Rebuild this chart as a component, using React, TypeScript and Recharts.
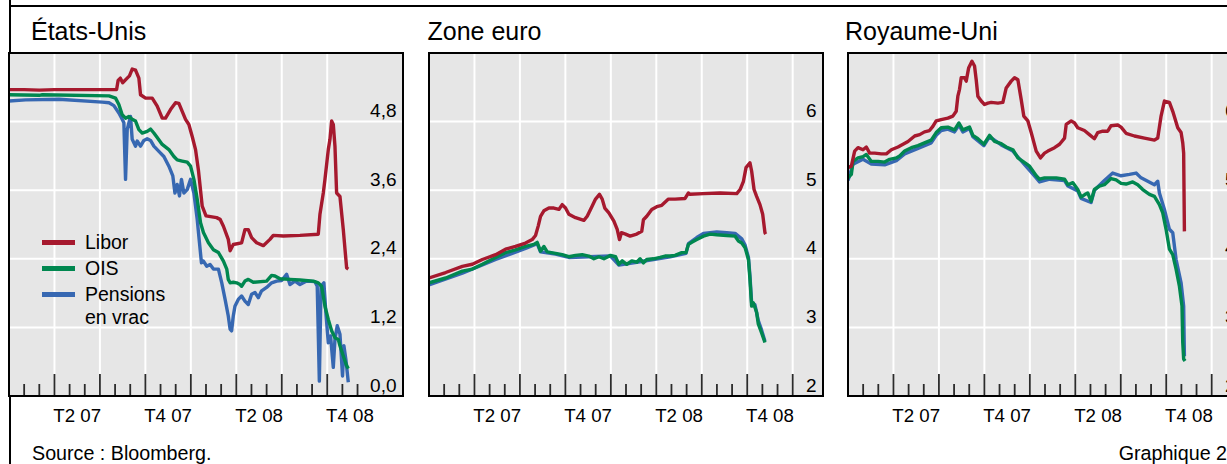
import React from 'react';
import { LineChart, Line, XAxis, YAxis, CartesianGrid, Legend } from 'recharts';

// x = months since 1 Jan 2007 ; v = rate (%)
const US_LIBOR: number[][] = [
  [0, 5.36], [1, 5.36], [2, 5.35], [3, 5.36], [4, 5.36], [5, 5.36], [6, 5.36], [7.1, 5.36],
  [7.2, 5.52], [7.35, 5.56], [7.5, 5.48], [7.8, 5.56], [7.95, 5.6], [8.13, 5.72], [8.35, 5.7],
  [8.57, 5.56], [8.68, 5.27], [9.01, 5.21], [9.45, 5.21], [9.78, 5.07], [10.11, 4.86], [10.33, 4.86],
  [10.66, 5.01], [10.99, 5.13], [11.21, 5.12], [11.43, 4.98], [11.65, 4.84], [11.87, 4.75], [12.09, 4.54],
  [12.31, 4.31], [12.5, 3.95], [12.75, 3.32], [13.0, 3.15], [13.7, 3.12], [13.93, 3.09], [14.15, 2.97],
  [14.47, 2.74], [14.59, 2.54], [14.8, 2.65], [15.35, 2.68], [15.57, 2.91], [15.79, 2.91], [16.01, 2.77],
  [16.34, 2.68], [16.78, 2.63], [17.22, 2.74], [17.44, 2.81], [18.1, 2.8], [19.2, 2.81], [20.41, 2.83],
  [20.52, 3.18], [20.74, 3.55], [20.85, 3.79], [21.07, 4.31], [21.18, 4.49], [21.29, 4.81], [21.4, 4.75],
  [21.51, 4.37], [21.62, 3.55], [21.84, 3.49], [22.06, 2.91], [22.28, 2.24], [22.39, 2.22],
];
const US_OIS: number[][] = [
  [0, 5.27], [2.0, 5.26], [2.2, 5.27], [6.6, 5.25], [7.03, 5.21], [7.25, 5.1], [7.47, 4.92], [7.69, 4.86],
  [7.91, 4.89], [8.13, 4.84], [8.35, 4.81], [8.57, 4.66], [8.79, 4.6], [9.12, 4.63], [9.34, 4.67],
  [9.56, 4.6], [9.78, 4.52], [10.11, 4.4], [10.55, 4.31], [10.88, 4.19], [11.1, 4.13], [11.43, 4.11],
  [11.76, 4.09], [11.98, 4.02], [12.2, 3.79], [12.42, 3.44], [12.64, 3.03], [12.83, 2.86], [13.16, 2.68],
  [13.49, 2.56], [13.82, 2.51], [14.15, 2.36], [14.37, 2.22], [14.47, 2.04], [14.59, 1.98], [14.8, 1.99],
  [15.02, 1.98], [15.24, 1.95], [15.35, 1.92], [15.57, 2.01], [15.79, 2.04], [16.12, 1.99], [17.0, 2.01],
  [17.33, 2.11], [17.55, 2.1], [17.88, 2.05], [18.54, 2.04], [19.2, 2.03], [20.08, 2.01], [20.41, 1.98],
  [20.63, 1.92], [20.85, 1.57], [21.07, 1.34], [21.29, 1.14], [21.51, 1.02], [21.73, 0.99], [21.84, 0.88],
  [22.06, 0.7], [22.28, 0.53], [22.39, 0.48],
];
const US_REPO: number[][] = [
  [0, 5.16], [1.1, 5.18], [3.3, 5.19], [6.15, 5.14], [6.6, 5.13], [6.92, 5.08], [7.25, 4.95], [7.47, 4.84],
  [7.58, 4.78], [7.69, 3.79], [7.8, 4.66], [8.02, 4.89], [8.13, 4.49], [8.35, 4.37], [8.46, 4.46],
  [8.68, 4.37], [8.9, 4.47], [9.12, 4.5], [9.34, 4.47], [9.56, 4.37], [9.89, 4.28], [10.22, 4.19],
  [10.55, 4.02], [10.81, 3.85], [10.95, 3.55], [11.1, 3.7], [11.25, 3.5], [11.38, 3.79], [11.54, 3.55],
  [11.76, 3.61], [11.98, 3.79], [12.2, 3.55], [12.42, 3.09], [12.57, 2.68], [12.7, 2.33], [12.83, 2.36],
  [13.05, 2.27], [13.27, 2.3], [13.49, 2.22], [13.82, 2.22], [14.04, 1.98], [14.26, 1.69], [14.47, 1.4],
  [14.59, 1.17], [14.69, 1.14], [14.8, 1.4], [14.91, 1.57], [15.13, 1.69], [15.35, 1.75], [15.57, 1.66],
  [15.79, 1.6], [16.01, 1.78], [16.23, 1.81], [16.45, 1.72], [16.67, 1.84], [17.0, 1.9], [17.33, 1.98],
  [17.66, 2.01], [17.99, 2.02], [18.32, 2.13], [18.54, 1.95], [18.87, 2.01], [19.2, 1.95], [19.64, 2.01],
  [20.19, 2.0], [20.34, 1.92], [20.48, 0.26], [20.59, 1.92], [20.78, 1.98], [20.91, 1.46], [21.07, 0.93],
  [21.22, 1.05], [21.4, 0.5], [21.51, 0.99], [21.66, 1.23], [21.84, 1.08], [22.01, 0.35], [22.1, 0.88],
  [22.23, 0.64], [22.39, 0.24],
];

const EU_LIBOR: number[][] = [
  [0, 3.72], [1.1, 3.8], [2.2, 3.89], [2.86, 3.92], [3.52, 3.99], [4.4, 4.06], [5.05, 4.14], [5.71, 4.18],
  [6.37, 4.23], [6.81, 4.28], [7.03, 4.34], [7.21, 4.48], [7.36, 4.62], [7.58, 4.7], [7.91, 4.74],
  [8.24, 4.74], [8.57, 4.72], [8.79, 4.79], [9.01, 4.74], [9.23, 4.65], [9.67, 4.6], [10.22, 4.56],
  [10.44, 4.62], [10.77, 4.77], [10.99, 4.87], [11.25, 4.94], [11.43, 4.87], [11.6, 4.74], [11.87, 4.67],
  [12.2, 4.55], [12.42, 4.43], [12.57, 4.28], [12.7, 4.38], [12.97, 4.36], [13.27, 4.33], [13.71, 4.36],
  [14.04, 4.4], [14.15, 4.57], [14.37, 4.62], [14.7, 4.72], [15.03, 4.76], [15.36, 4.78], [15.8, 4.87],
  [16.24, 4.87], [16.9, 4.88], [17.12, 4.96], [17.23, 4.94], [18.11, 4.95], [19.21, 4.96], [20.31, 4.95],
  [20.53, 5.01], [20.75, 5.13], [20.92, 5.33], [21.18, 5.4], [21.29, 5.28], [21.45, 5.01], [21.62, 4.91],
  [21.84, 4.79], [22.02, 4.65], [22.17, 4.38], [22.22, 4.36],
];
const EU_OIS: number[][] = [
  [0, 3.65], [1.1, 3.72], [2.2, 3.82], [2.86, 3.85], [3.52, 3.92], [4.4, 4.02], [5.05, 4.09], [5.71, 4.13],
  [6.37, 4.18], [6.92, 4.21], [7.14, 4.24], [7.36, 4.11], [7.58, 4.18], [7.8, 4.1], [8.35, 4.08],
  [8.79, 4.06], [9.23, 4.03], [9.67, 4.05], [10.11, 4.06], [10.55, 4.04], [10.88, 4.0], [11.21, 4.03],
  [11.54, 4.0], [11.98, 4.05], [12.31, 4.03], [12.53, 3.92], [12.75, 3.97], [13.05, 3.92], [13.38, 3.97],
  [13.71, 3.95], [13.93, 4.0], [14.15, 3.94], [14.37, 3.99], [14.81, 4.0], [15.25, 4.02], [15.58, 4.04],
  [15.91, 4.04], [16.24, 4.05], [16.68, 4.09], [16.96, 4.09], [17.12, 4.21], [17.34, 4.24], [17.67, 4.28],
  [18.11, 4.33], [18.55, 4.36], [18.99, 4.35], [19.65, 4.34], [20.2, 4.33], [20.42, 4.26], [20.64, 4.23],
  [20.86, 4.16], [21.08, 3.99], [21.18, 3.7], [21.29, 3.31], [21.4, 3.36], [21.51, 3.29], [21.62, 3.22],
  [21.73, 3.05], [21.95, 2.92], [22.06, 2.85], [22.17, 2.78],
];
const EU_REPO: number[][] = [
  [0, 3.62], [2.2, 3.79], [4.4, 3.99], [6.37, 4.15], [7.14, 4.22], [7.36, 4.1], [8.35, 4.07], [9.23, 4.02],
  [10.55, 4.03], [11.98, 4.04], [12.53, 3.91], [13.71, 3.95], [14.81, 3.99], [15.91, 4.03], [16.96, 4.08],
  [17.12, 4.22], [17.67, 4.31], [18.11, 4.37], [18.99, 4.39], [19.65, 4.38], [20.2, 4.37], [20.64, 4.29],
  [20.86, 4.2], [21.08, 4.02], [21.18, 3.75], [21.29, 3.36], [21.51, 3.33], [21.73, 3.1], [21.95, 2.96],
  [22.17, 2.8],
];

const UK_LIBOR: number[][] = [
  [0, 5.33], [0.22, 5.35], [0.44, 5.57], [0.66, 5.62], [0.99, 5.59], [1.21, 5.63], [1.43, 5.54], [1.76, 5.54],
  [2.2, 5.53], [2.53, 5.53], [2.86, 5.59], [3.3, 5.63], [3.63, 5.67], [3.96, 5.71], [4.4, 5.79], [4.73, 5.81],
  [5.05, 5.85], [5.38, 5.87], [5.6, 5.93], [5.82, 6.01], [6.15, 6.03], [6.59, 6.05], [6.92, 6.08],
  [7.14, 6.15], [7.25, 6.37], [7.36, 6.47], [7.47, 6.64], [7.69, 6.64], [7.8, 6.59], [7.96, 6.78],
  [8.18, 6.88], [8.35, 6.81], [8.46, 6.61], [8.57, 6.37], [8.79, 6.3], [9.01, 6.25], [9.23, 6.27],
  [9.45, 6.28], [9.89, 6.27], [10.22, 6.28], [10.44, 6.49], [10.77, 6.59], [10.99, 6.64], [11.21, 6.61],
  [11.43, 6.32], [11.6, 6.08], [11.87, 6.01], [12.09, 5.84], [12.42, 5.57], [12.7, 5.47], [12.97, 5.54],
  [13.19, 5.57], [13.63, 5.62], [13.96, 5.67], [14.29, 5.76], [14.4, 5.96], [14.73, 6.01], [14.95, 5.98],
  [15.16, 5.91], [15.6, 5.87], [15.93, 5.81], [16.26, 5.75], [16.48, 5.84], [16.81, 5.86], [17.14, 5.86],
  [17.36, 5.94], [17.8, 5.95], [18.02, 5.92], [18.35, 5.83], [18.9, 5.79], [19.56, 5.76], [20.22, 5.73],
  [20.44, 5.76], [20.66, 6.08], [20.88, 6.3], [21.21, 6.28], [21.43, 6.15], [21.76, 5.91], [21.98, 5.84],
  [22.09, 5.69], [22.15, 5.54], [22.2, 4.4],
];
const UK_OIS: number[][] = [
  [0, 5.18], [0.22, 5.23], [0.33, 5.42], [0.66, 5.47], [0.99, 5.49], [1.21, 5.52], [1.54, 5.42], [1.98, 5.42],
  [2.42, 5.41], [2.75, 5.45], [3.19, 5.47], [3.41, 5.5], [3.74, 5.57], [4.18, 5.62], [4.62, 5.65],
  [5.05, 5.69], [5.49, 5.73], [5.82, 5.84], [6.15, 5.91], [6.59, 5.92], [7.03, 5.88], [7.32, 5.98],
  [7.58, 5.88], [8.02, 5.92], [8.24, 5.8], [8.57, 5.75], [8.97, 5.67], [9.34, 5.8], [9.67, 5.71],
  [10.11, 5.68], [10.44, 5.63], [10.88, 5.59], [11.21, 5.47], [11.54, 5.42], [11.98, 5.35], [12.42, 5.21],
  [12.64, 5.16], [12.97, 5.18], [13.3, 5.18], [13.74, 5.18], [14.29, 5.16], [14.51, 5.08], [14.84, 5.11],
  [15.16, 5.01], [15.38, 4.9], [15.65, 4.94], [15.82, 4.96], [16.04, 4.84], [16.26, 5.01], [16.59, 5.06],
  [16.92, 5.08], [17.36, 5.17], [17.69, 5.15], [18.02, 5.1], [18.35, 5.09], [18.79, 5.12], [19.12, 5.08],
  [19.45, 5.01], [19.89, 4.94], [20.22, 4.91], [20.55, 4.79], [20.77, 4.67], [20.99, 4.43], [21.21, 4.14],
  [21.43, 4.06], [21.65, 3.85], [21.87, 3.6], [22.04, 3.31], [22.09, 2.78], [22.15, 2.54], [22.24, 2.51],
];
const UK_REPO: number[][] = [
  [0, 5.14], [0.33, 5.38], [0.99, 5.45], [1.54, 5.38], [2.42, 5.37], [3.19, 5.43], [3.74, 5.53], [4.62, 5.61],
  [5.49, 5.69], [5.82, 5.8], [6.15, 5.87], [6.59, 5.89], [7.03, 5.85], [7.32, 5.95], [7.58, 5.85],
  [8.02, 5.9], [8.24, 5.78], [8.97, 5.65], [9.34, 5.78], [10.11, 5.66], [10.88, 5.57], [11.54, 5.4],
  [12.42, 5.18], [12.64, 5.12], [13.3, 5.16], [14.29, 5.14], [14.51, 5.06], [15.16, 4.99], [15.38, 4.88],
  [16.04, 4.82], [16.26, 5.0], [16.92, 5.14], [17.47, 5.25], [18.02, 5.21], [18.57, 5.23], [19.01, 5.25],
  [19.34, 5.18], [19.78, 5.13], [20.22, 5.08], [20.44, 5.13], [20.55, 4.96], [20.88, 4.72], [21.21, 4.43],
  [21.43, 4.38], [21.65, 3.99], [21.98, 3.65], [22.15, 3.31], [22.2, 2.58],
];

const QUARTER_LABELS = ['T2 07', 'T4 07', 'T2 08', 'T4 08'];
const QUARTER_LABEL_POS = [4.5, 10.5, 16.5, 22.5];
const MAJOR_US = [3, 6, 9, 12, 15, 18, 21];
const MAJOR_EU = [3, 6, 9, 12, 15, 18, 21, 24];
const MINOR_MONTHS = [1, 2, 4, 5, 7, 8, 10, 11, 13, 14, 16, 17, 19, 20, 22, 23];
const US_TICKS = [0, 1.2, 2.4, 3.6, 4.8];
const EU_TICKS = [2, 3, 4, 5, 6];
const SERIES_NAMES = ['Libor', 'OIS', 'Pensions en vrac'];

const RED = '#a6192e';
const GREEN = '#00874f';
const BLUE = '#3768b2';
const TICK = '#2b2b2b';
const FONT = "'Liberation Sans', Arial, Helvetica, sans-serif";

const toPts = (a: number[][]) => a.map(([m, v]) => ({ m, v }));

const PLOT_W = 394;
const PLOT_H = 343;
const PLOT_TOP = 52.5;
const LINE_W = 3.4;

function LegendContent(props: any) {
  const payload: any[] = props.payload || [];
  const items = SERIES_NAMES.map((n) => payload.find((p) => p.value === n)).filter(Boolean);
  return (
    <div style={{ fontFamily: FONT, fontSize: 19.5, color: '#000' }}>
      {items.map((it: any) => (
        <div key={it.value} style={{ display: 'flex', alignItems: 'flex-start', marginBottom: 3 }}>
          <span style={{ display: 'inline-block', width: 33, height: 5, background: it.color, marginTop: 9, marginRight: 10, flex: 'none' }} />
          <span style={{ lineHeight: '23px', width: 92 }}>{it.value}</span>
        </div>
      ))}
    </div>
  );
}

// y-axis label drawn inside the plot, right-aligned, just above its grid line
function YTick(props: any) {
  const { y, payload, fmt } = props;
  return (
    <text x={PLOT_W - 6.5} y={y - 11} textAnchor="end" dominantBaseline="central" fontSize={19} fill="#000" fontFamily={FONT}>
      {fmt(payload.value)}
    </text>
  );
}

const NoLabel = () => <g />;

type PanelProps = {
  left: number;
  title: string;
  titleLeft: number;
  domain: [number, number];
  ticks: number[];
  fmt: (v: number) => string;
  libor: number[][];
  ois: number[][];
  repo: number[][];
  majors: number[];
  legend?: boolean;
};

function Panel(p: PanelProps) {
  const lab = (v: number) => {
    const i = QUARTER_LABEL_POS.indexOf(v);
    return i >= 0 ? QUARTER_LABELS[i] : '';
  };
  return (
    <>
      <div style={{ position: 'absolute', left: p.titleLeft, top: 19, fontSize: 25, lineHeight: '25px', whiteSpace: 'nowrap' }}>{p.title}</div>
      <div style={{ position: 'absolute', left: p.left, top: PLOT_TOP }}>
        <LineChart width={PLOT_W} height={PLOT_H + 40} margin={{ top: 0, right: 0, bottom: 0, left: 0 }}>
          <CartesianGrid xAxisId="maj" fill="#e6e6e6" stroke="#ffffff" strokeWidth={2} />
          <XAxis xAxisId="lab" type="number" dataKey="m" domain={[0, 26]} allowDataOverflow ticks={QUARTER_LABEL_POS} interval={0}
            tickFormatter={lab} axisLine={false} tickLine={false} tickSize={0} tickMargin={12.5} height={40}
            tick={{ fontSize: 18.7, fill: '#000', fontFamily: FONT }} />
          <XAxis xAxisId="maj" type="number" dataKey="m" domain={[0, 26]} allowDataOverflow ticks={p.majors} interval={0} mirror height={1}
            stroke={TICK} axisLine={false} tick={<NoLabel />} tickSize={22} tickLine={{ stroke: TICK, strokeWidth: 1.8 }} />
          <XAxis xAxisId="min" type="number" dataKey="m" domain={[0, 26]} allowDataOverflow ticks={MINOR_MONTHS} interval={0} mirror height={1}
            stroke={TICK} axisLine={false} tick={<NoLabel />} tickSize={11} tickLine={{ stroke: TICK, strokeWidth: 1.8 }} />
          <YAxis type="number" domain={p.domain} allowDataOverflow ticks={p.ticks} interval={0} orientation="right" mirror width={30}
            axisLine={false} tickLine={false} tick={<YTick fmt={p.fmt} />} />
          <Line xAxisId="lab" data={toPts(p.repo)} dataKey="v" name="Pensions en vrac" stroke={BLUE} strokeWidth={LINE_W}
            dot={false} isAnimationActive={false} strokeLinejoin="round" type="linear" />
          <Line xAxisId="lab" data={toPts(p.ois)} dataKey="v" name="OIS" stroke={GREEN} strokeWidth={LINE_W}
            dot={false} isAnimationActive={false} strokeLinejoin="round" type="linear" />
          <Line xAxisId="lab" data={toPts(p.libor)} dataKey="v" name="Libor" stroke={RED} strokeWidth={LINE_W}
            dot={false} isAnimationActive={false} strokeLinejoin="round" type="linear" />
          {p.legend && (
            <Legend layout="vertical" align="center" verticalAlign="middle" content={LegendContent}
              wrapperStyle={{ left: 33, top: 178, width: 150 }} />
          )}
        </LineChart>
      </div>
      <div style={{ position: 'absolute', left: p.left - 1, top: 51.5, width: PLOT_W + 2, height: PLOT_H + 2, border: '2px solid #000', boxSizing: 'border-box', pointerEvents: 'none' }} />
    </>
  );
}

const usFmt = (v: number) => v.toFixed(1).replace('.', ',');
const euFmt = (v: number) => String(v);

export default function App() {
  return (
    <div style={{ position: 'absolute', left: 0, top: 0, width: 1227, height: 464, overflow: 'hidden', background: '#fff', fontFamily: FONT, color: '#000' }}>
      <div style={{ position: 'absolute', left: 8.5, top: 0, width: 2, height: 464, background: '#000' }} />
      <div style={{ position: 'absolute', left: 8.5, top: 4.5, width: 1220, height: 2, background: '#000' }} />
      <Panel left={9} title="États-Unis" titleLeft={31} domain={[0, 6]} ticks={US_TICKS} fmt={usFmt}
        libor={US_LIBOR} ois={US_OIS} repo={US_REPO} majors={MAJOR_US} legend />
      <Panel left={428.7} title="Zone euro" titleLeft={427.5} domain={[2, 7]} ticks={EU_TICKS} fmt={euFmt}
        libor={EU_LIBOR} ois={EU_OIS} repo={EU_REPO} majors={MAJOR_EU} />
      <Panel left={847.8} title="Royaume-Uni" titleLeft={845} domain={[2, 7]} ticks={EU_TICKS} fmt={euFmt}
        libor={UK_LIBOR} ois={UK_OIS} repo={UK_REPO} majors={MAJOR_EU} />
      <div style={{ position: 'absolute', left: 32, top: 442.5, fontSize: 19.7, lineHeight: '20px' }}>Source : Bloomberg.</div>
      <div style={{ position: 'absolute', right: 0, top: 442.5, fontSize: 19.7, lineHeight: '20px' }}>Graphique 2</div>
    </div>
  );
}
